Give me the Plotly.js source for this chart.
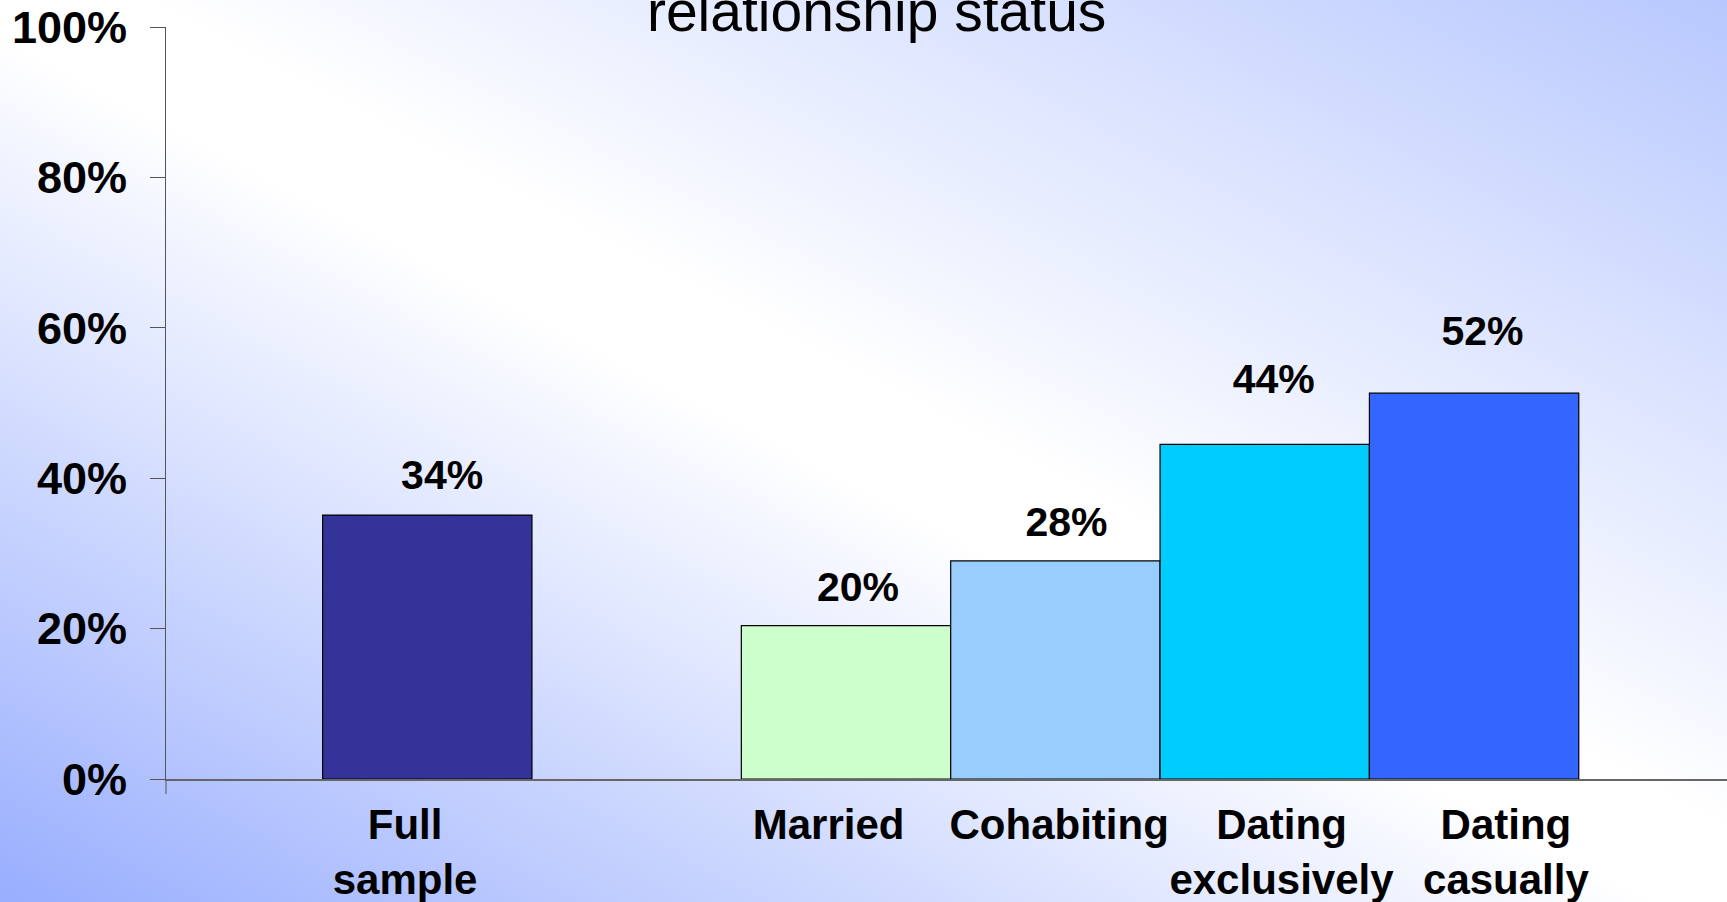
<!DOCTYPE html>
<html>
<head>
<meta charset="utf-8">
<script src="https://cdn.plot.ly/plotly-3.0.1.min.js"></script>
<style>
html, body { margin: 0; padding: 0; width: 1727px; height: 902px; overflow: hidden;
  background: linear-gradient(to top right, #98aefe 0%, #ffffff 48%, #ffffff 54%, #b8c8fe 100%); }
#chart { width: 1727px; height: 902px; }
</style>
</head>
<body>
<div id="chart"></div>
<script>
// ---- data ----
const categories = ["Full<br>sample", "Married", "Cohabiting", "Dating<br>exclusively", "Dating<br>casually"];
const barPositions = [0, 2, 3, 4, 5];
const values = [35.1, 20.4, 29.0, 44.5, 51.3];
const valueLabels = ["34%", "20%", "28%", "44%", "52%"];
const labelX = [0.071, 2.057, 3.053, 4.043, 5.040];
const labelY = [39.9, 25.0, 33.7, 52.7, 59.1];
const tickPositions = [-0.106, 1.917, 3.018, 4.08, 5.152];
const yTickVals = [0, 20, 40, 60, 80, 100];
const yTickText = ["0%", "20%", "40%", "60%", "80%", "100%"];
const barColors = ["#333399", "#CCFFCC", "#99CCFF", "#00CCFF", "#3366FF"];

const FONT = 'Arial, "Liberation Sans", sans-serif';

const traces = [
  {
    type: "bar",
    x: barPositions,
    y: values,
    width: 1,
    marker: { color: barColors, line: { color: "#000000", width: 1.2 } },
    hoverinfo: "skip",
    showlegend: false
  },
  {
    type: "scatter",
    mode: "text",
    x: labelX,
    y: labelY,
    text: valueLabels,
    textposition: "middle center",
    textfont: { family: FONT, size: 41, color: "#000000", weight: "bold" },
    cliponaxis: false,
    hoverinfo: "skip",
    showlegend: false
  }
];

const layout = {
  width: 1727,
  height: 902,
  margin: { l: 166, r: 0, t: 27, b: 123, pad: 0 },
  paper_bgcolor: "rgba(0,0,0,0)",
  plot_bgcolor: "rgba(0,0,0,0)",
  showlegend: false,
  bargap: 0,
  title: {
    text: "relationship status",
    font: { family: FONT, size: 57, color: "#000000" },
    xref: "container", x: 0.5076, xanchor: "center",
    yref: "container", y: 0.988, yanchor: "middle"
  },
  xaxis: {
    range: [-1.248, 6.208],
    tickvals: tickPositions,
    ticktext: categories,
    tickangle: 0,
    ticks: "",
    showline: true,
    linecolor: "#666666",
    linewidth: 1.5,
    showgrid: false,
    zeroline: false,
    tickfont: { family: FONT, size: 42, color: "#000000", weight: "bold" },
    ticklabelstandoff: 8,
    fixedrange: true
  },
  yaxis: {
    range: [0, 100],
    tickvals: yTickVals,
    ticktext: yTickText,
    ticks: "outside",
    ticklen: 15,
    tickcolor: "#555555",
    tickwidth: 1,
    showline: true,
    linecolor: "#555555",
    linewidth: 1,
    showgrid: false,
    zeroline: false,
    tickfont: { family: FONT, size: 45, color: "#000000", weight: "bold" },
    ticklabelstandoff: 14,
    fixedrange: true
  },
  shapes: [
    { type: "line", xref: "paper", yref: "paper", x0: 0, x1: 0, y0: 0, y1: -0.02,
      line: { color: "#555555", width: 1 } }
  ]
};

Plotly.newPlot("chart", traces, layout, { displayModeBar: false, staticPlot: true });
</script>
</body>
</html>
